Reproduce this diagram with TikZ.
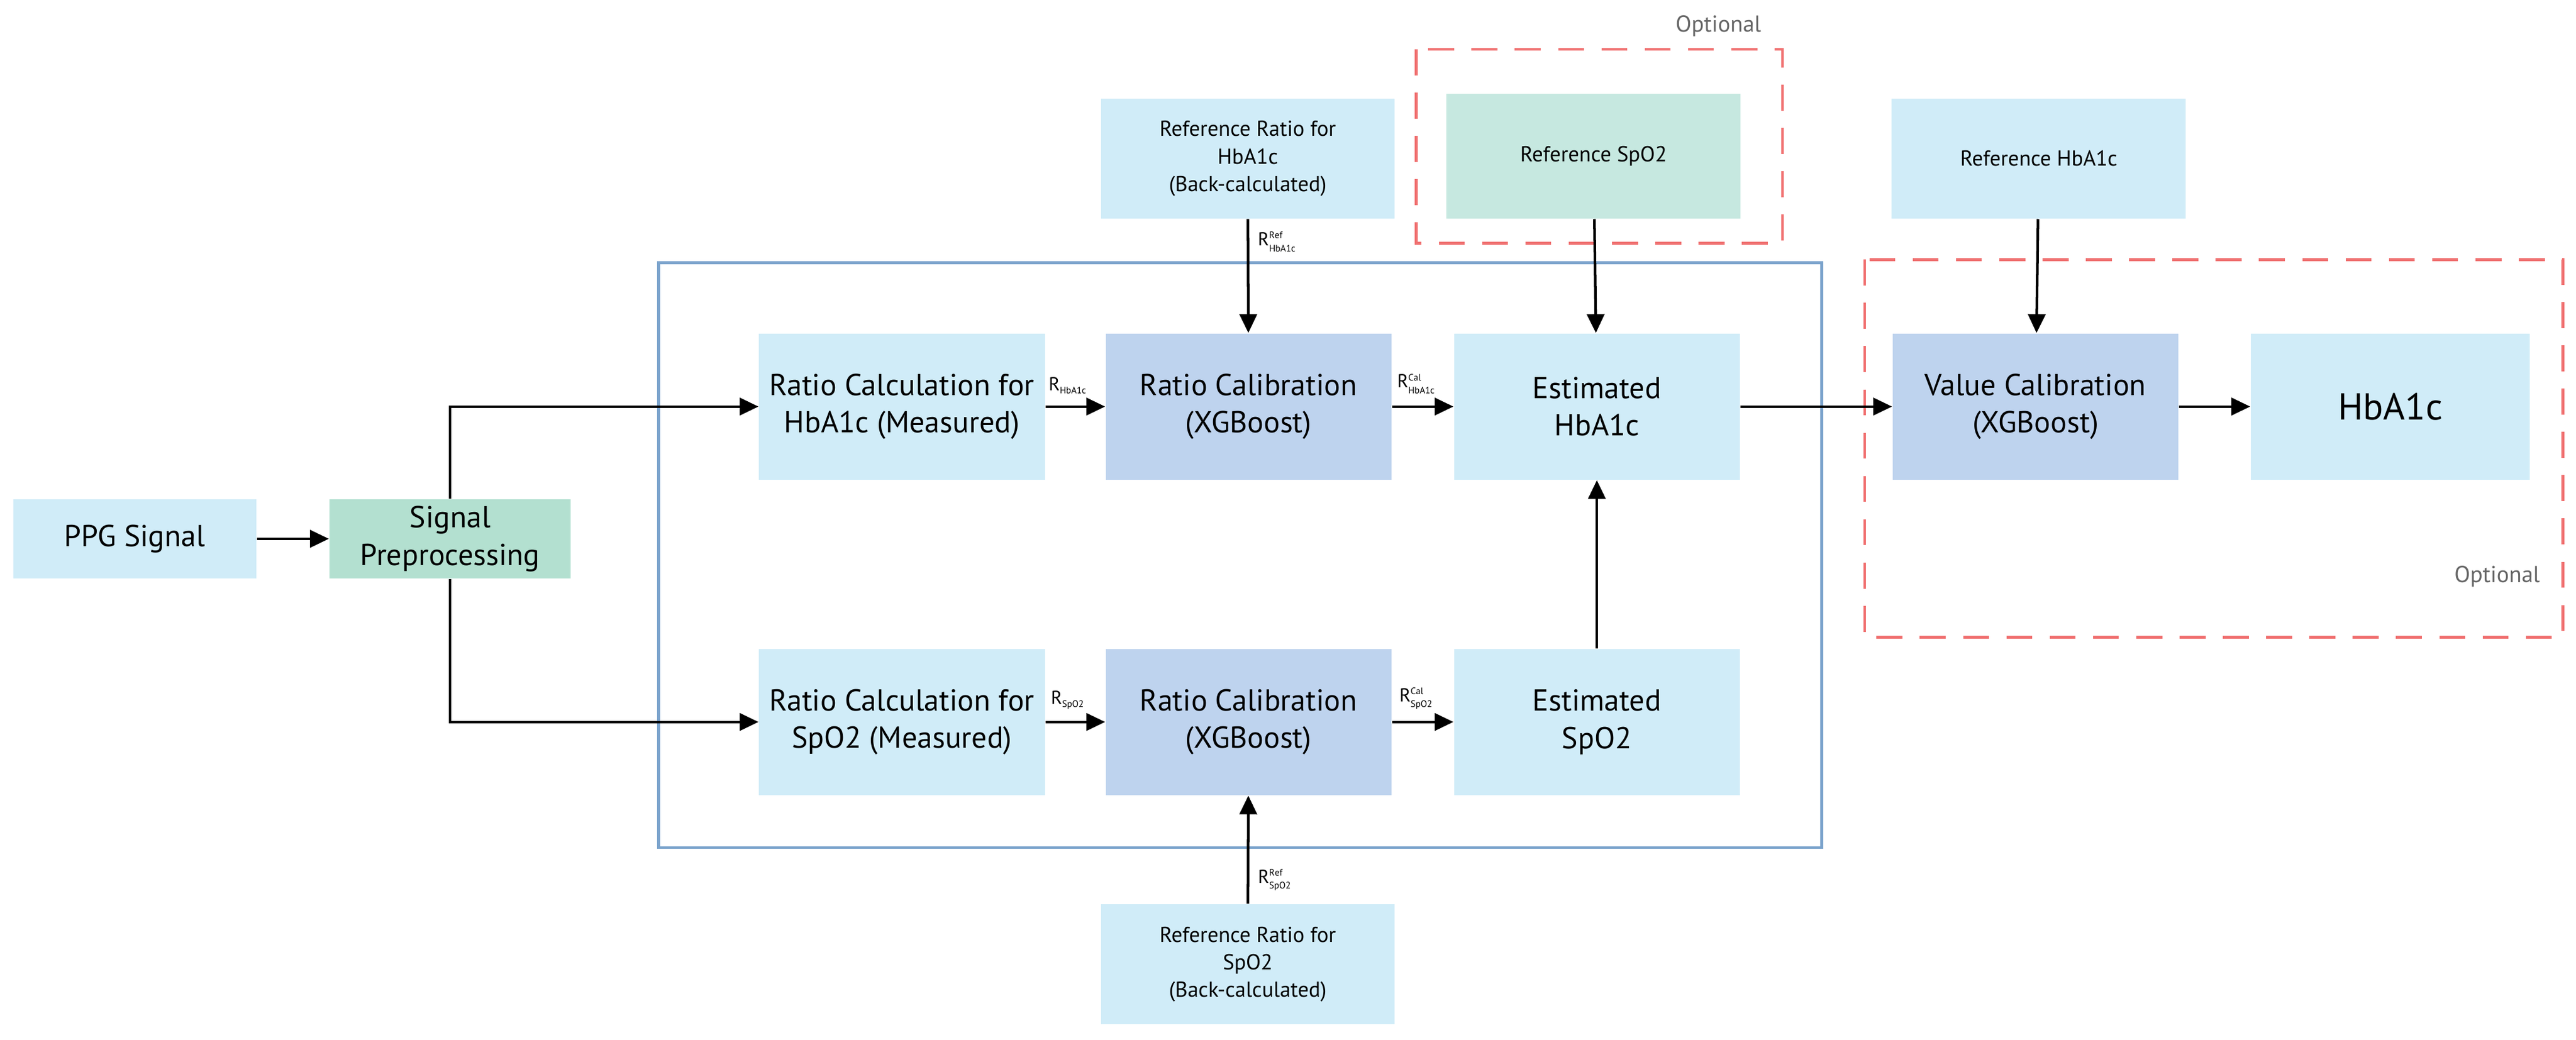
\documentclass[tikz,border=0pt]{standalone}
\usepackage{fontspec}
\setmainfont{PT Sans}
\usetikzlibrary{arrows.meta}
\definecolor{lb}{HTML}{D0ECF8}
\definecolor{db}{HTML}{BED3EE}
\definecolor{gr}{HTML}{B3E0D0}
\definecolor{gr2}{HTML}{C6E8E0}
\definecolor{fr}{HTML}{7BA3CC}
\definecolor{rd}{HTML}{F07070}
\begin{document}
\begin{tikzpicture}[x={(0.02cm,0)},y={(0,-0.02cm)},
 box/.style={draw=none,fill=lb,minimum width=3.48cm,minimum height=1.78cm,align=center,inner sep=1pt,font=\fontsize{10.5}{13}\selectfont},
 dbox/.style={box,fill=db},
 rbox/.style={box,minimum width=3.58cm,minimum height=1.46cm,font=\fontsize{7.5}{9.5}\selectfont},
 arr/.style={-{Triangle[length=6.5pt,width=6pt]},line width=0.9pt},
 lab/.style={font=\fontsize{6.5}{7}\selectfont,inner sep=1pt},
 opt/.style={font=\fontsize{8}{9}\selectfont,text=gray!80!black},
 optframe/.style={draw=rd,line width=1pt,dash pattern=on 9pt off 6pt}]
\useasboundingbox (0,0) rectangle (1568,633);
\draw[fr,line width=1pt] (401,160) rectangle (1109,516);
\draw[optframe] (862,30) rectangle (1085,148);
\draw[optframe] (1135,158) rectangle (1560,388);
\node[opt] (o1) at (1046,16) {Optional};
\node[opt] (o2) at (1520,351) {Optional};
\node[box,minimum width=2.96cm,minimum height=0.96cm] (ppg) at (82,328) {PPG Signal};
\node[box,fill=gr,minimum width=2.94cm,minimum height=0.96cm] (pre) at (274,328) {Signal\\Preprocessing};
\node[box] (rch) at (549,247.5) {Ratio Calculation for\\HbA1c (Measured)};
\node[dbox] (cch) at (760,247.5) {Ratio Calibration\\(XGBoost)};
\node[box] (eh) at (972,247.5) {Estimated\\HbA1c};
\node[box] (rcs) at (549,439.5) {Ratio Calculation for\\SpO2 (Measured)};
\node[dbox] (ccs) at (760,439.5) {Ratio Calibration\\(XGBoost)};
\node[box] (es) at (972,439.5) {Estimated\\SpO2};
\node[rbox] (rrh) at (759.5,96.5) {Reference Ratio for\\HbA1c\\(Back-calculated)};
\node[rbox,fill=gr2,minimum height=1.52cm] (rs) at (970,95) {Reference SpO2};
\node[rbox] (rh) at (1241,96.5) {Reference HbA1c};
\node[rbox] (rrs) at (759.5,587) {Reference Ratio for\\SpO2\\(Back-calculated)};
\node[dbox] (vc) at (1239,247.5) {Value Calibration\\(XGBoost)};
\node[box,minimum width=3.4cm,font=\fontsize{13}{15}\selectfont] (hb) at (1455,247.5) {HbA1c};
\coordinate (bt) at (274,247.5);
\coordinate (bb) at (274,439.5);
\draw[arr] (ppg) -- (pre);
\draw[arr] (pre.north) -- (bt) -- (rch);
\draw[arr] (pre.south) -- (bb) -- (rcs);
\draw[arr] (rch) -- node[lab,above,pos=0.38,yshift=3pt] {R$_{\scriptscriptstyle\mathrm{HbA1c}}$} (cch);
\draw[arr] (cch) -- node[lab,above,pos=0.4,yshift=3pt] {R$^{\scriptscriptstyle\mathrm{Cal}}_{\scriptscriptstyle\mathrm{HbA1c}}$} (eh);
\draw[arr] (rcs) -- node[lab,above,pos=0.38,yshift=3pt] {R$_{\scriptscriptstyle\mathrm{SpO2}}$} (ccs);
\draw[arr] (ccs) -- node[lab,above,pos=0.4,yshift=3pt] {R$^{\scriptscriptstyle\mathrm{Cal}}_{\scriptscriptstyle\mathrm{SpO2}}$} (es);
\draw[arr] (rrh) -- node[lab,right,pos=0.2,xshift=2pt] {R$^{\scriptscriptstyle\mathrm{Ref}}_{\scriptscriptstyle\mathrm{HbA1c}}$} (cch);
\draw[arr] (rrs) -- node[lab,right,pos=0.22,xshift=2pt] {R$^{\scriptscriptstyle\mathrm{Ref}}_{\scriptscriptstyle\mathrm{SpO2}}$} (ccs);
\draw[arr] (rs) -- (eh);
\draw[arr] (es) -- (eh);
\draw[arr] (eh) -- (vc);
\draw[arr] (rh) -- (vc);
\draw[arr] (vc) -- (hb);
\end{tikzpicture}
\end{document}
